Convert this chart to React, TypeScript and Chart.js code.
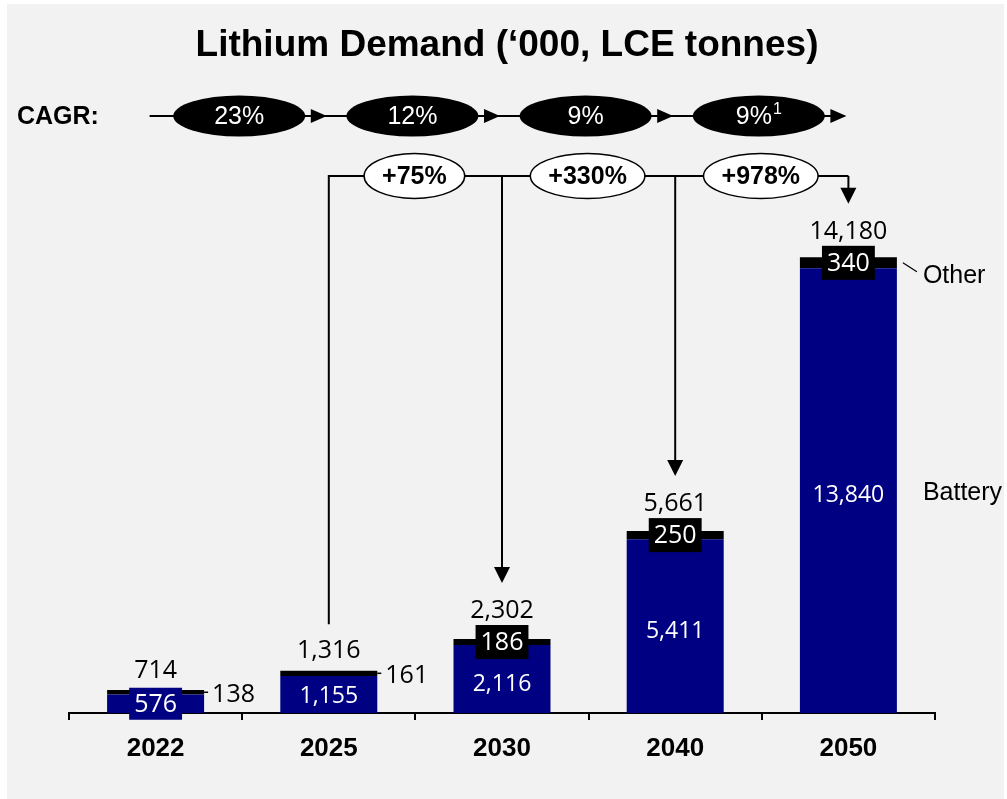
import React, { useEffect, useRef } from 'react';
import { Chart, registerables } from 'chart.js';

Chart.register(...registerables);

const categories = ['2022', '2025', '2030', '2040', '2050'];
const battery = [576, 1155, 2116, 5411, 13840];
const other = [138, 161, 186, 250, 340];
const totals = [714, 1316, 2302, 5661, 14180];
const cagrLabels = ['23%', '12%', '9%', '9%'];
const cagrNotes = ['', '', '', '1'];
const growthLabels = ['+75%', '+330%', '+978%'];
const seriesNames = ['Battery', 'Other'];
const titleText = 'Lithium Demand (\u2018000, LCE tonnes)';
const yMax = 15000;

const NAVY = '#000082';
const SANS = '"Liberation Sans", Arial, sans-serif';
const NUM = '"Open Sans", "Noto Sans", sans-serif';

const fmt = (v: number) => v.toLocaleString('en-US');

function arrowRight(ctx: CanvasRenderingContext2D, tipX: number, y: number) {
  ctx.beginPath();
  ctx.moveTo(tipX - 16, y - 7);
  ctx.lineTo(tipX, y);
  ctx.lineTo(tipX - 16, y + 7);
  ctx.closePath();
  ctx.fill();
}

function arrowDown(ctx: CanvasRenderingContext2D, x: number, tipY: number) {
  ctx.beginPath();
  ctx.moveTo(x - 8, tipY - 16);
  ctx.lineTo(x, tipY);
  ctx.lineTo(x + 8, tipY - 16);
  ctx.closePath();
  ctx.fill();
}

const overlay = {
  id: 'overlay',
  beforeDraw(chart: any) {
    const ctx: CanvasRenderingContext2D = chart.ctx;
    ctx.save();
    ctx.fillStyle = '#ffffff';
    ctx.fillRect(0, 0, chart.width, chart.height);
    ctx.fillStyle = '#f2f2f2';
    ctx.fillRect(7, 4, 997, 795);
    ctx.restore();
  },
  afterDraw(chart: any) {
    const ctx: CanvasRenderingContext2D = chart.ctx;
    const xs = chart.scales.x;
    const mB = chart.getDatasetMeta(0);
    const mO = chart.getDatasetMeta(1);
    const cx = (i: number) => xs.getPixelForValue(i);
    ctx.save();

    // Title
    ctx.fillStyle = '#000';
    ctx.font = `bold 37px ${SANS}`;
    ctx.textAlign = 'center';
    ctx.textBaseline = 'alphabetic';
    ctx.fillText(titleText, 507, 56);

    // CAGR row
    ctx.font = `bold 25px ${SANS}`;
    ctx.textAlign = 'left';
    ctx.fillText('CAGR:', 17, 124);
    const cy = 116;
    ctx.strokeStyle = '#000';
    ctx.lineWidth = 2;
    ctx.beginPath();
    ctx.moveTo(cx(0) - 6, cy);
    ctx.lineTo(cx(categories.length - 1) - 4, cy);
    ctx.stroke();
    for (let i = 0; i < cagrLabels.length; i++) {
      const ex = (cx(i) + cx(i + 1)) / 2 - 3;
      ctx.fillStyle = '#000';
      ctx.beginPath();
      ctx.ellipse(ex, cy, 66, 20.5, 0, 0, Math.PI * 2);
      ctx.fill();
      arrowRight(ctx, cx(i + 1) - 2, cy);
      ctx.fillStyle = '#fff';
      ctx.font = `25px ${SANS}`;
      const main = cagrLabels[i];
      const note = cagrNotes[i];
      const wMain = ctx.measureText(main).width;
      ctx.font = `16px ${SANS}`;
      const wNote = note ? ctx.measureText(note).width + 1 : 0;
      const start = ex - (wMain + wNote) / 2;
      ctx.textAlign = 'left';
      ctx.textBaseline = 'middle';
      ctx.font = `25px ${SANS}`;
      ctx.fillText(main, start, cy + 1);
      if (note) {
        ctx.font = `16px ${SANS}`;
        ctx.fillText(note, start + wMain + 1, cy - 6);
      }
    }

    // Bar labels
    const labelY: number[] = [];
    for (let i = 0; i < categories.length; i++) {
      const b = mB.data[i].getProps(['x', 'y', 'base', 'width'], true);
      const o = mO.data[i].getProps(['x', 'y', 'base', 'width'], true);
      const x = b.x;
      const half = b.width / 2;
      const segC = (o.y + o.base) / 2;
      const bC = (b.y + b.base) / 2;
      const barH = b.base - o.y;
      let tY: number;
      ctx.textBaseline = 'middle';
      if (barH < 50) {
        ctx.strokeStyle = '#000';
        ctx.lineWidth = 1.5;
        ctx.beginPath();
        ctx.moveTo(x + half, segC);
        ctx.lineTo(x + half + 4, segC);
        ctx.stroke();
        ctx.fillStyle = '#000';
        ctx.font = `25px ${NUM}`;
        ctx.textAlign = 'left';
        ctx.fillText(fmt(other[i]), x + half + 8, segC + 3);
        tY = o.y - 19.5;
      } else {
        ctx.font = `25px ${NUM}`;
        const t = fmt(other[i]);
        const w = ctx.measureText(t).width + 10;
        ctx.fillStyle = '#000';
        ctx.fillRect(x - w / 2, segC - 17, w, 34);
        ctx.fillStyle = '#fff';
        ctx.textAlign = 'center';
        ctx.fillText(t, x, segC + 1);
        tY = segC - 17 - 14;
      }
      labelY.push(tY);
      ctx.fillStyle = '#000';
      ctx.font = `25px ${NUM}`;
      ctx.textAlign = 'center';
      ctx.fillText(fmt(totals[i]), x, tY);
      const bH = b.base - b.y;
      const bt = fmt(battery[i]);
      if (bH < 25) {
        ctx.font = `25px ${NUM}`;
        const w = ctx.measureText(bt).width + 10;
        ctx.fillStyle = NAVY;
        ctx.fillRect(x - w / 2, bC - 16, w, 32);
        ctx.fillStyle = '#fff';
        ctx.fillText(bt, x, bC + 1);
      } else {
        ctx.font = `23px ${NUM}`;
        ctx.fillStyle = '#fff';
        ctx.fillText(bt, x, bC + (bH > 60 ? 5 : 2));
      }
      if (i === categories.length - 1) {
        ctx.strokeStyle = '#000';
        ctx.lineWidth = 1.2;
        ctx.beginPath();
        ctx.moveTo(x + half + 6, segC);
        ctx.lineTo(x + half + 20, segC + 9);
        ctx.stroke();
        ctx.fillStyle = '#000';
        ctx.font = `25px ${SANS}`;
        ctx.textAlign = 'left';
        ctx.fillText(seriesNames[1], x + half + 26, segC + 13);
        ctx.fillText(seriesNames[0], x + half + 26, bC + 2);
      }
    }

    // Growth brackets
    const gy = 176;
    ctx.strokeStyle = '#000';
    ctx.fillStyle = '#000';
    ctx.lineWidth = 2;
    ctx.beginPath();
    ctx.moveTo(cx(1), labelY[1] - 27);
    ctx.lineTo(cx(1), gy);
    ctx.lineTo(cx(4), gy);
    ctx.stroke();
    for (let j = 2; j <= 4; j++) {
      const tip = labelY[j] - 28;
      ctx.beginPath();
      ctx.moveTo(cx(j), gy);
      ctx.lineTo(cx(j), tip - 14);
      ctx.stroke();
      arrowDown(ctx, cx(j), tip);
    }
    ctx.font = `bold 25px ${SANS}`;
    ctx.textAlign = 'center';
    ctx.textBaseline = 'middle';
    for (let j = 0; j < growthLabels.length; j++) {
      const ex = (cx(j + 1) + cx(j + 2)) / 2 - 1;
      const w = ctx.measureText(growthLabels[j]).width + 36;
      ctx.fillStyle = '#fff';
      ctx.beginPath();
      ctx.ellipse(ex, gy, w / 2, 22.5, 0, 0, Math.PI * 2);
      ctx.fill();
      ctx.lineWidth = 1.5;
      ctx.stroke();
      ctx.fillStyle = '#000';
      ctx.fillText(growthLabels[j], ex, gy + 1);
    }
    ctx.restore();
  },
};

export default function App() {
  const ref = useRef<HTMLCanvasElement>(null);
  useEffect(() => {
    Chart.defaults.font.family = SANS;
    const chart = new Chart(ref.current as HTMLCanvasElement, {
      type: 'bar',
      data: {
        labels: categories,
        datasets: [
          { label: seriesNames[0], data: battery, backgroundColor: NAVY, borderWidth: 0, barPercentage: 0.56, categoryPercentage: 1 },
          { label: seriesNames[1], data: other, backgroundColor: '#000000', borderWidth: 0, barPercentage: 0.56, categoryPercentage: 1 },
        ],
      },
      options: {
        animation: false,
        responsive: false,
        devicePixelRatio: 1,
        layout: { padding: { left: 69, right: 72, top: 231, bottom: 0 } },
        plugins: {
          legend: { display: false },
          title: { display: false },
          tooltip: { enabled: false },
        },
        scales: {
          x: {
            stacked: true,
            grid: { display: true, drawOnChartArea: false, drawTicks: true, tickLength: 7, color: '#000', lineWidth: 2, offset: true },
            border: { display: true, color: '#000', width: 2 },
            ticks: { color: '#000', font: { family: SANS, size: 26, weight: 'bold' }, padding: 13, maxRotation: 0, autoSkip: false },
            afterFit: (s: any) => { s.height = 86; },
          },
          y: { stacked: true, display: false, min: 0, max: yMax },
        },
      },
      plugins: [overlay],
    } as any);
    return () => chart.destroy();
  }, []);
  return (
    <div style={{ position: 'fixed', left: 0, top: 0, width: 1007, height: 799 }}>
      <canvas ref={ref} width={1007} height={799} style={{ display: 'block' }} />
    </div>
  );
}
